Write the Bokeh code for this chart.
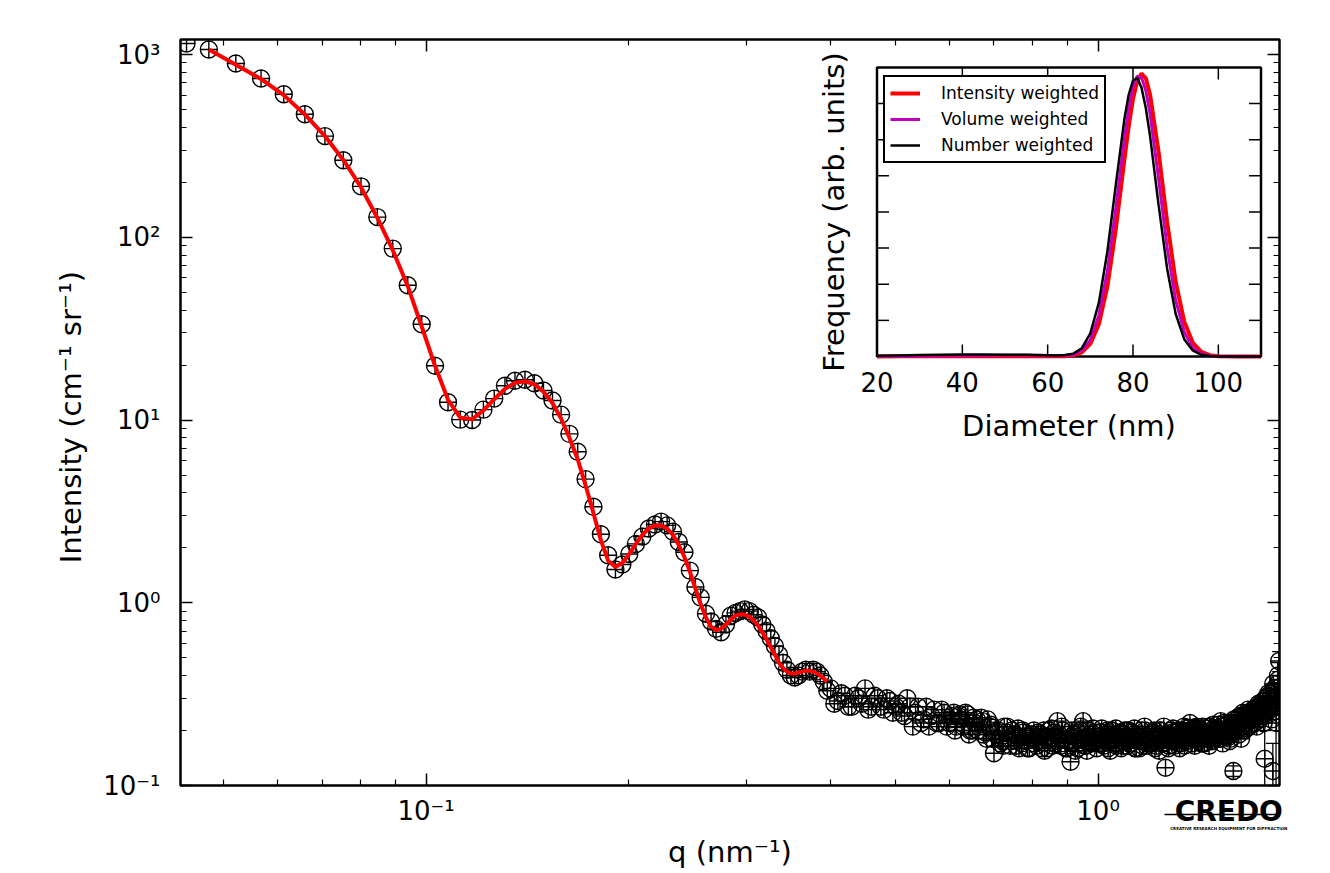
import math
from bokeh.plotting import figure
from bokeh.models import (Range1d, LinearScale, FixedTicker, Legend, LegendItem,
                          Whisker, ColumnDataSource, TeeHead, LogAxis)
from bokeh.embed import file_html
from bokeh.resources import INLINE
from bokeh.core.properties import value

FONT = "DejaVu Sans"

# ---------------- main SAXS curve: measured points ----------------
q_low = [0.0440, 0.0475, 0.0521, 0.0568, 0.0614, 0.0660, 0.0707, 0.0753, 0.0800, 0.0846,
         0.0892, 0.0939, 0.0985, 0.1031, 0.1078, 0.1124, 0.1171, 0.1217, 0.1263, 0.1310,
         0.1356, 0.1403, 0.1449, 0.1495, 0.1542, 0.1588, 0.1634, 0.1681, 0.1727, 0.1774,
         0.1820, 0.1866, 0.1913, 0.1959, 0.2006, 0.2052, 0.2098, 0.2145, 0.2191, 0.2237,
         0.2284, 0.2330, 0.2377, 0.2423, 0.2469, 0.2516, 0.2562, 0.2609, 0.2655, 0.2701,
         0.2748, 0.2794, 0.2840, 0.2887, 0.2933, 0.2980, 0.3026, 0.3072, 0.3119, 0.3165,
         0.3211, 0.3258, 0.3304, 0.3351, 0.3397, 0.3443, 0.3490, 0.3536, 0.3582, 0.3629,
         0.3675, 0.3722, 0.3768, 0.3814, 0.3861, 0.3907, 0.3954]
I_low = [1150, 1065, 893, 739, 606, 471, 358, 264, 190, 129,
         86.7, 54.6, 33.4, 19.8, 12.5, 10.05, 10.0, 11.4, 13.1, 15.4,
         16.4, 16.6, 15.9, 14.5, 12.8, 10.7, 8.4, 6.7, 4.75, 3.35,
         2.37, 1.82, 1.52, 1.62, 1.85, 2.1, 2.3, 2.55, 2.68, 2.78,
         2.65, 2.45, 2.15, 1.89, 1.50, 1.22, 1.07, 0.87, 0.79, 0.72,
         0.69, 0.76, 0.85, 0.88, 0.90, 0.92, 0.90, 0.86, 0.83, 0.76,
         0.70, 0.64, 0.58, 0.52, 0.47, 0.43, 0.40, 0.39, 0.40, 0.42,
         0.43, 0.42, 0.43, 0.42, 0.40, 0.37, 0.33]

q_high = [0.40, 0.41, 0.42, 0.43, 0.44, 0.45, 0.46, 0.47, 0.48, 0.49,
          0.50, 0.51, 0.52, 0.53, 0.54, 0.55, 0.56, 0.57, 0.58, 0.59,
          0.60, 0.61, 0.62, 0.63, 0.64, 0.65, 0.66, 0.67, 0.68, 0.69,
          0.70, 0.71, 0.72, 0.73, 0.74, 0.75, 0.76, 0.77, 0.78, 0.79,
          0.80, 0.81, 0.82, 0.83, 0.84, 0.85, 0.86, 0.87, 0.88, 0.89,
          0.90, 0.91, 0.92, 0.93, 0.94, 0.95, 0.96, 0.97, 0.98, 0.99,
          1.00, 1.01, 1.02, 1.03, 1.04, 1.05, 1.06, 1.07, 1.08, 1.09,
          1.10, 1.11, 1.12, 1.13, 1.14, 1.15, 1.16, 1.17, 1.18, 1.19,
          1.20, 1.21, 1.22, 1.23, 1.24, 1.25, 1.26, 1.27, 1.28, 1.29,
          1.30, 1.31, 1.32, 1.33, 1.34, 1.35, 1.36, 1.37, 1.38, 1.39,
          1.40, 1.41, 1.42, 1.43, 1.44, 1.45, 1.46, 1.47, 1.48, 1.49,
          1.50, 1.51, 1.52, 1.53, 1.54, 1.55, 1.56, 1.57, 1.58, 1.59,
          1.60, 1.61, 1.62, 1.63, 1.64, 1.65, 1.66, 1.67, 1.68, 1.69,
          1.70, 1.71, 1.72, 1.73, 1.74, 1.75, 1.76, 1.77, 1.78, 1.79,
          1.80, 1.81, 1.82, 1.83, 1.84, 1.85, 1.86]
I_high = [0.34, 0.29, 0.31, 0.27, 0.30, 0.34, 0.27, 0.30, 0.26, 0.29,
          0.27, 0.25, 0.30, 0.21, 0.27, 0.23, 0.21, 0.26, 0.22, 0.25,
          0.22, 0.25, 0.24, 0.21, 0.245, 0.20, 0.23, 0.235, 0.195, 0.21,
          0.15, 0.20, 0.175, 0.195, 0.165, 0.19, 0.205, 0.17, 0.185, 0.16,
          0.19, 0.165, 0.185, 0.20, 0.16, 0.18, 0.195, 0.225, 0.165, 0.18,
          0.16, 0.135, 0.19, 0.17, 0.20, 0.225, 0.165, 0.185, 0.17, 0.195,
          0.18, 0.195, 0.165, 0.19, 0.175, 0.20, 0.17, 0.185, 0.195, 0.165,
          0.18, 0.20, 0.17, 0.19, 0.16, 0.185, 0.20, 0.175, 0.165, 0.19,
          0.18, 0.195, 0.165, 0.185, 0.20, 0.17, 0.125, 0.19, 0.175, 0.195,
          0.165, 0.185, 0.20, 0.17, 0.19, 0.18, 0.205, 0.22, 0.17, 0.19,
          0.20, 0.175, 0.19, 0.21, 0.17, 0.195, 0.185, 0.21, 0.175, 0.20,
          0.19, 0.215, 0.18, 0.20, 0.22, 0.185, 0.205, 0.175, 0.22, 0.12,
          0.21, 0.23, 0.19, 0.22, 0.24, 0.20, 0.23, 0.25, 0.21, 0.24,
          0.26, 0.22, 0.25, 0.27, 0.23, 0.26, 0.29, 0.14, 0.28, 0.31,
          0.26, 0.32, 0.12, 0.34, 0.28, 0.36, 0.48]

q_high2 = [0.405, 0.415, 0.425, 0.435, 0.445, 0.455, 0.465, 0.475, 0.485, 0.495,
           0.505, 0.515, 0.525, 0.535, 0.545, 0.555, 0.565, 0.575, 0.585, 0.595,
           0.605, 0.615, 0.625, 0.635, 0.645, 0.655, 0.665, 0.675, 0.685, 0.695,
           0.705, 0.715, 0.725, 0.735, 0.745, 0.755, 0.765, 0.775, 0.785, 0.795,
           0.805, 0.815, 0.825, 0.835, 0.845, 0.855, 0.865, 0.875, 0.885, 0.895,
           0.905, 0.915, 0.925, 0.935, 0.945, 0.955, 0.965, 0.975, 0.985, 0.995,
           1.005, 1.015, 1.025, 1.035, 1.045, 1.055, 1.065, 1.075, 1.085, 1.095,
           1.105, 1.115, 1.125, 1.135, 1.145, 1.155, 1.165, 1.175, 1.185, 1.195,
           1.205, 1.215, 1.225, 1.235, 1.245, 1.255, 1.265, 1.275, 1.285, 1.295,
           1.305, 1.315, 1.325, 1.335, 1.345, 1.355, 1.365, 1.375, 1.385, 1.395,
           1.405, 1.415, 1.425, 1.435, 1.445, 1.455, 1.465, 1.475, 1.485, 1.495,
           1.505, 1.515, 1.525, 1.535, 1.545, 1.555, 1.565, 1.575, 1.585, 1.595,
           1.605, 1.615, 1.625, 1.635, 1.645, 1.655, 1.665, 1.675, 1.685, 1.695,
           1.705, 1.715, 1.725, 1.735, 1.745, 1.755, 1.765, 1.775, 1.785, 1.795,
           1.805, 1.815, 1.825, 1.835, 1.845, 1.855]
I_high2 = [0.28, 0.32, 0.27, 0.31, 0.28, 0.26, 0.31, 0.27, 0.30, 0.25,
           0.28, 0.24, 0.27, 0.25, 0.22, 0.27, 0.24, 0.22, 0.26, 0.21,
           0.24, 0.21, 0.23, 0.25, 0.20, 0.22, 0.21, 0.19, 0.23, 0.18,
           0.19, 0.17, 0.21, 0.18, 0.20, 0.165, 0.185, 0.195, 0.16, 0.19,
           0.17, 0.195, 0.16, 0.185, 0.20, 0.165, 0.175, 0.19, 0.20, 0.16,
           0.19, 0.17, 0.155, 0.195, 0.18, 0.165, 0.20, 0.175, 0.19, 0.16,
           0.195, 0.17, 0.185, 0.16, 0.20, 0.18, 0.165, 0.19, 0.175, 0.20,
           0.165, 0.185, 0.195, 0.16, 0.19, 0.175, 0.165, 0.20, 0.18, 0.17,
           0.195, 0.16, 0.18, 0.20, 0.17, 0.185, 0.19, 0.165, 0.20, 0.175,
           0.195, 0.17, 0.18, 0.20, 0.165, 0.195, 0.185, 0.17, 0.205, 0.18,
           0.185, 0.205, 0.17, 0.195, 0.19, 0.18, 0.21, 0.175, 0.195, 0.185,
           0.205, 0.18, 0.21, 0.19, 0.20, 0.215, 0.185, 0.21, 0.195, 0.205,
           0.22, 0.20, 0.24, 0.21, 0.23, 0.22, 0.245, 0.21, 0.235, 0.25,
           0.24, 0.265, 0.23, 0.255, 0.28, 0.245, 0.27, 0.30, 0.26, 0.27,
           0.30, 0.25, 0.33, 0.29, 0.27, 0.38]

q_high3 = [0.6025, 0.6125, 0.6225, 0.6325, 0.6425, 0.6525, 0.6625, 0.6725, 0.6825, 0.6925,
           0.7025, 0.7125, 0.7225, 0.7325, 0.7425, 0.7525, 0.7625, 0.7725, 0.7825, 0.7925,
           0.8025, 0.8125, 0.8225, 0.8325, 0.8425, 0.8525, 0.8625, 0.8725, 0.8825, 0.8925,
           0.9025, 0.9125, 0.9225, 0.9325, 0.9425, 0.9525, 0.9625, 0.9725, 0.9825, 0.9925,
           1.0025, 1.0125, 1.0225, 1.0325, 1.0425, 1.0525, 1.0625, 1.0725, 1.0825, 1.0925,
           1.1025, 1.1125, 1.1225, 1.1325, 1.1425, 1.1525, 1.1625, 1.1725, 1.1825, 1.1925,
           1.2025, 1.2125, 1.2225, 1.2325, 1.2425, 1.2525, 1.2625, 1.2725, 1.2825, 1.2925,
           1.3025, 1.3125, 1.3225, 1.3325, 1.3425, 1.3525, 1.3625, 1.3725, 1.3825, 1.3925,
           1.4025, 1.4125, 1.4225, 1.4325, 1.4425, 1.4525, 1.4625, 1.4725, 1.4825, 1.4925,
           1.5025, 1.5125, 1.5225, 1.5325, 1.5425, 1.5525, 1.5625, 1.5725, 1.5825, 1.5925,
           1.6025, 1.6125, 1.6225, 1.6325, 1.6425, 1.6525, 1.6625, 1.6725, 1.6825, 1.6925,
           1.7025, 1.7125, 1.7225, 1.7325, 1.7425, 1.7525, 1.7625, 1.7725, 1.7825, 1.7925,
           1.8025, 1.8125, 1.8225, 1.8325, 1.8425, 1.8525]
I_high3 = [0.23, 0.20, 0.245, 0.215, 0.19, 0.235, 0.20, 0.225, 0.18, 0.215,
           0.20, 0.18, 0.165, 0.21, 0.175, 0.19, 0.16, 0.20, 0.175, 0.185,
           0.20, 0.175, 0.19, 0.155, 0.185, 0.205, 0.17, 0.18, 0.21, 0.17,
           0.175, 0.20, 0.185, 0.16, 0.21, 0.18, 0.155, 0.19, 0.205, 0.175,
           0.17, 0.205, 0.18, 0.20, 0.155, 0.19, 0.205, 0.17, 0.16, 0.19,
           0.20, 0.17, 0.18, 0.205, 0.185, 0.16, 0.19, 0.21, 0.17, 0.185,
           0.17, 0.20, 0.185, 0.155, 0.19, 0.21, 0.18, 0.16, 0.185, 0.205,
           0.18, 0.20, 0.16, 0.19, 0.21, 0.175, 0.19, 0.20, 0.18, 0.165,
           0.21, 0.18, 0.20, 0.17, 0.205, 0.19, 0.165, 0.20, 0.215, 0.18,
           0.20, 0.19, 0.225, 0.17, 0.21, 0.195, 0.22, 0.18, 0.205, 0.23,
           0.20, 0.235, 0.215, 0.18, 0.25, 0.22, 0.205, 0.26, 0.23, 0.215,
           0.25, 0.235, 0.21, 0.28, 0.26, 0.24, 0.22, 0.29, 0.25, 0.32,
           0.28, 0.23, 0.36, 0.30, 0.22, 0.40]

# large error bars near the high-q end
err_q = [1.37, 1.59, 1.77, 1.82, 1.84, 1.85, 1.86]
err_lo = [0.21, 0.112, 0.09, 0.08, 0.09, 0.26, 0.42]
err_hi = [0.23, 0.128, 0.20, 0.17, 0.36, 0.47, 0.54]

# fitted model curve (red)
q_fit = q_low[1:]
I_fit = [1065, 880, 735, 600, 470, 358, 265, 188, 128, 85,
         54, 32.5, 19.8, 12.9, 10.3, 10.1, 11.3, 13.0, 14.8, 16.0,
         16.3, 15.7, 14.3, 12.4, 10.2, 8.0, 6.1, 4.4, 3.1, 2.2,
         1.7, 1.57, 1.65, 1.85, 2.1, 2.35, 2.55, 2.65, 2.65, 2.55,
         2.35, 2.07, 1.78, 1.48, 1.2, 0.98, 0.83, 0.74, 0.71, 0.72,
         0.76, 0.81, 0.85, 0.865, 0.86, 0.84, 0.80, 0.75, 0.69, 0.63,
         0.57, 0.52, 0.47, 0.44, 0.42, 0.41, 0.41, 0.415, 0.42, 0.425,
         0.425, 0.42, 0.41, 0.40, 0.385, 0.37]

# ---------------- inset: size distributions ----------------
diam = [20, 25, 30, 35, 40, 45, 50, 55, 60, 62, 64, 66, 68, 70, 72, 74, 76, 78, 79,
        80, 81, 82, 83, 84, 86, 88, 90, 92, 94, 96, 98, 100, 105, 110]
freq_intensity = [0.0, 0.005, 0.005, 0.008, 0.01, 0.01, 0.01, 0.01, 0.008, 0.006, 0.01, 0.032,
                  0.114, 0.348, 0.893, 1.94, 3.55, 5.47, 6.38, 7.13, 7.63, 7.83, 7.70, 7.25,
                  5.66, 3.73, 2.07, 0.97, 0.385, 0.128, 0.036, 0.009, 0.0, 0.0]
freq_volume = [0.005, 0.01, 0.015, 0.02, 0.025, 0.03, 0.035, 0.035, 0.03, 0.025, 0.03, 0.05,
               0.16, 0.46, 1.14, 2.37, 4.13, 6.05, 6.87, 7.46, 7.76, 7.72, 7.36, 6.72,
               4.92, 3.02, 1.56, 0.68, 0.25, 0.077, 0.02, 0.005, 0.0, 0.0]
freq_number = [0.02, 0.03, 0.04, 0.05, 0.055, 0.055, 0.05, 0.045, 0.035, 0.03, 0.04, 0.08,
               0.23, 0.64, 1.49, 2.91, 4.78, 6.59, 7.25, 7.64, 7.71, 7.44, 6.88, 6.10,
               4.19, 2.43, 1.18, 0.48, 0.166, 0.048, 0.012, 0.003, 0.0, 0.0]
inset_xticks = [20, 40, 60, 80, 100]
inset_xticklabels = ["20", "40", "60", "80", "100"]
inset_yticks = [1, 2, 3, 4, 5, 6, 7]
inset_xlim = (20, 110)
inset_ylim = (0, 8)

# ---------------- ticks ----------------
x_major = [0.1, 1.0]
x_minor = [0.05, 0.06, 0.07, 0.08, 0.09, 0.2, 0.3, 0.4, 0.5, 0.6, 0.7, 0.8, 0.9]
y_major = [0.1, 1.0, 10.0, 100.0, 1000.0]
y_minor = [m * d for d in (0.1, 1.0, 10.0, 100.0) for m in (2, 3, 4, 5, 6, 7, 8, 9)]
x_labels = {0.1: "10⁻¹", 1.0: "10⁰"}
y_labels = {0.1: "10⁻¹", 1.0: "10⁰", 10.0: "10¹", 100.0: "10²", 1000.0: "10³"}
XR = (0.0431, 1.862)
YR = (0.1, 1209.0)

# ---------------- layout ----------------
W, H = 1328, 872
FL, FT, FW, FH = 180, 39, 1099, 746
# inset frame as fractions of the main frame
ix0, ix1, iy0, iy1 = 0.63376, 0.98317, 0.57507, 0.96247

p = figure(width=W, height=H, x_axis_type="log", y_axis_type="log",
           x_range=Range1d(*XR), y_range=Range1d(*YR),
           toolbar_location=None, output_backend="svg",
           min_border_left=FL, min_border_top=FT,
           min_border_right=W - FL - FW, min_border_bottom=H - FT - FH)
p.grid.visible = False
p.outline_line_color = "black"
p.outline_line_width = 2.5
p.outline_line_alpha = 1.0
p.background_fill_color = "white"
p.border_fill_color = "white"

p.add_layout(LogAxis(), "above")
p.add_layout(LogAxis(), "right")

for ax in p.xaxis:
    ax.ticker = FixedTicker(ticks=x_major, minor_ticks=x_minor)
for ax in p.yaxis:
    ax.ticker = FixedTicker(ticks=y_major, minor_ticks=y_minor)
for ax in p.axis:
    ax.axis_line_color = None
    ax.major_tick_in = 12
    ax.major_tick_out = 0
    ax.minor_tick_in = 6
    ax.minor_tick_out = 0
    ax.major_tick_line_width = 1.5
    ax.minor_tick_line_width = 1.2
    ax.major_tick_line_color = "black"
    ax.minor_tick_line_color = "black"
    ax.major_label_text_font = FONT
    ax.major_label_text_font_size = "26px"
    ax.major_label_text_color = "black"

for ax in (p.above[0], p.right[0]):
    ax.major_label_text_color = None
    ax.major_label_text_font_size = "1px"
    ax.major_label_standoff = 0

yl = p.left[0]
yl.major_label_overrides = y_labels
yl.major_label_standoff = 20
yl.axis_label = "Intensity (cm⁻¹  sr⁻¹)"
yl.axis_label_text_font = FONT
yl.axis_label_text_font_size = "29px"
yl.axis_label_text_font_style = "normal"
yl.axis_label_text_color = "black"
yl.axis_label_standoff = 12

# bottom: tick marks axis (its blank labels only reserve space down to the logo rule)
xb = p.below[0]
xb.major_label_overrides = {0.1: " ", 1.0: " "}
xb.major_label_text_font_size = "1px"
xb.major_label_standoff = 25

logo_q = 1.565
logo_left_q = 1.255
plain = dict(major_tick_line_color=None, minor_tick_line_color=None,
             major_tick_in=0, major_tick_out=0, minor_tick_in=0, minor_tick_out=0)

# CREDO logo, its rule is the axis line of this axis
credo = LogAxis(bounds=(logo_left_q, XR[1]),
                ticker=FixedTicker(ticks=[logo_q], minor_ticks=[]),
                major_label_overrides={logo_q: "CREDO"},
                axis_line_color="black", axis_line_width=1.3,
                major_label_standoff=-20, major_label_text_font=FONT,
                major_label_text_font_style="bold", major_label_text_font_size="28px",
                major_label_text_color="black", **plain)
p.add_layout(credo, "below")

# q tick labels
xlab = LogAxis(ticker=FixedTicker(ticks=x_major, minor_ticks=[]),
               major_label_overrides=x_labels, axis_line_color=None,
               major_label_standoff=-35, major_label_text_font=FONT,
               major_label_text_font_size="26px", major_label_text_color="black", **plain)
p.add_layout(xlab, "below")

# logo subtitle + x axis title
xsub = LogAxis(ticker=FixedTicker(ticks=[logo_q], minor_ticks=[]),
               major_label_overrides={logo_q: "CREATIVE RESEARCH EQUIPMENT FOR DIFFRACTION"},
               axis_line_color=None, major_label_standoff=-5, major_label_text_font=FONT,
               major_label_text_font_style="bold", major_label_text_font_size="4px",
               major_label_text_color="black",
               axis_label="q (nm⁻¹)", axis_label_text_font=FONT,
               axis_label_text_font_size="29px", axis_label_text_font_style="normal",
               axis_label_text_color="black", axis_label_standoff=1, **plain)
p.add_layout(xsub, "below")

# main data
p.scatter(q_low + q_high + q_high2 + q_high3, I_low + I_high + I_high2 + I_high3,
          marker="circle_cross", size=17, fill_color=None, line_color="black", line_width=1.4)
err_src = ColumnDataSource(dict(q=err_q, lo=err_lo, hi=err_hi))
p.add_layout(Whisker(source=err_src, base="q", lower="lo", upper="hi", dimension="height",
                     line_color="black", line_width=1.3,
                     lower_head=TeeHead(size=14, line_width=1.3, line_color="black"),
                     upper_head=TeeHead(size=14, line_width=1.3, line_color="black")))
p.line(q_fit, I_fit, line_color="#ff0000", line_width=4)

# ---------------- inset ----------------
dspan = (inset_xlim[1] - inset_xlim[0]) / (ix1 - ix0)
d0 = inset_xlim[0] - ix0 * dspan
fspan = (inset_ylim[1] - inset_ylim[0]) / (iy1 - iy0)
f0 = inset_ylim[0] - iy0 * fspan
p.extra_x_ranges = {"d": Range1d(d0, d0 + dspan)}
p.extra_y_ranges = {"f": Range1d(f0, f0 + fspan)}
p.extra_x_scales = {"d": LinearScale()}
p.extra_y_scales = {"f": LinearScale()}
ins = dict(x_range_name="d", y_range_name="f")

p.quad(left=[inset_xlim[0]], right=[inset_xlim[1]], bottom=[inset_ylim[0]], top=[inset_ylim[1]],
       fill_color="white", line_color="black", line_width=2.5, **ins)
tk = dict(length=12, length_units="screen", line_color="black", line_width=1.5, **ins)
xt = inset_xticks[1:]
p.ray(x=xt, y=[inset_ylim[0]] * len(xt), angle=math.pi / 2, **tk)
p.ray(x=xt, y=[inset_ylim[1]] * len(xt), angle=-math.pi / 2, **tk)
p.ray(x=[inset_xlim[0]] * len(inset_yticks), y=inset_yticks, angle=0, **tk)
p.ray(x=[inset_xlim[1]] * len(inset_yticks), y=inset_yticks, angle=math.pi, **tk)

r_int = p.line(diam, freq_intensity, line_color="#ff0000", line_width=4, **ins)
r_vol = p.line(diam, freq_volume, line_color="#bf00bf", line_width=3, **ins)
r_num = p.line(diam, freq_number, line_color="black", line_width=2.5, **ins)

p.text(x=inset_xticks, y=[inset_ylim[0]] * len(inset_xticks), text=inset_xticklabels,
       text_align="center", text_baseline="middle", y_offset=26,
       text_font=value(FONT), text_font_size="26px", text_color="black", **ins)
p.text(x=[(inset_xlim[0] + inset_xlim[1]) / 2], y=[inset_ylim[0]], text=["Diameter (nm)"],
       text_align="center", text_baseline="middle", y_offset=70,
       text_font=value(FONT), text_font_size="29px", text_color="black", **ins)
p.text(x=[inset_xlim[0]], y=[(inset_ylim[0] + inset_ylim[1]) / 2], text=["Frequency (arb. units)"],
       angle=math.pi / 2, text_align="center", text_baseline="middle", x_offset=-43,
       text_font=value(FONT), text_font_size="29px", text_color="black", **ins)

legend = Legend(items=[LegendItem(label="Intensity weighted", renderers=[r_int]),
                       LegendItem(label="Volume weighted", renderers=[r_vol]),
                       LegendItem(label="Number weighted", renderers=[r_num])],
                location=(703, 622), label_text_font=FONT, label_text_font_size="17px",
                label_text_color="black",
                border_line_color="black", border_line_width=2, border_line_alpha=1.0,
                background_fill_color="white", background_fill_alpha=1.0,
                padding=5, spacing=4, margin=0, glyph_width=30, glyph_height=22,
                label_height=22, label_standoff=21)
p.add_layout(legend)

open("out.html", "w").write(file_html(p, INLINE))
